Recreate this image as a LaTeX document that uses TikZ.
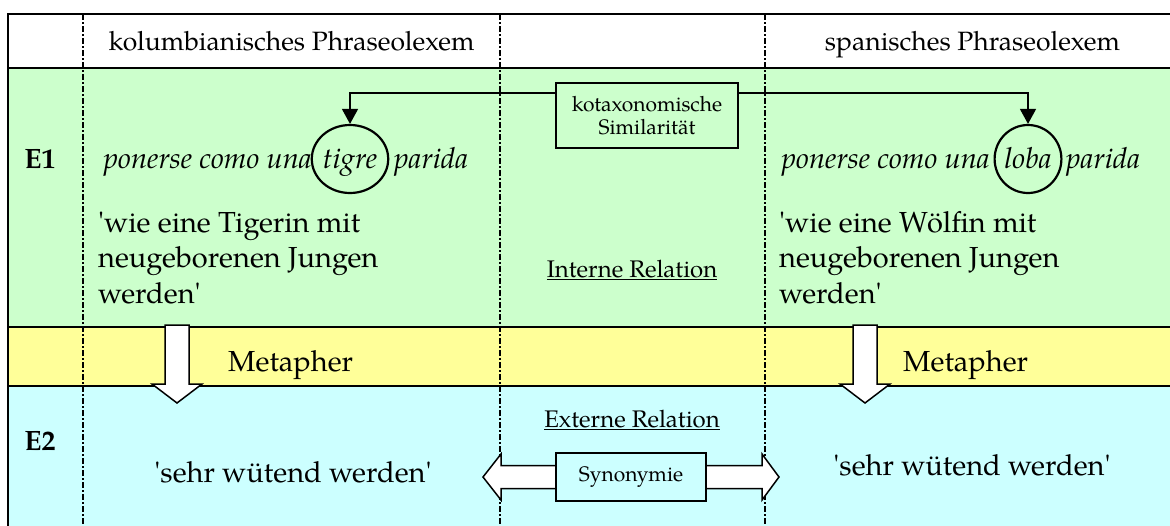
\documentclass[tikz,border=0pt]{standalone}
\usepackage{fontspec}
\setmainfont{TeX Gyre Pagella}
\usetikzlibrary{arrows.meta,shapes.geometric}
\definecolor{rowgreen}{HTML}{CCFFCC}
\definecolor{rowyellow}{HTML}{FFFF99}
\definecolor{rowcyan}{HTML}{CCFFFF}
\newcommand{\fsz}[2]{\fontsize{#1}{#2}\selectfont}
\newcommand{\sq}{\textquotesingle}

\begin{document}
\begin{tikzpicture}[x=1pt,y=-1pt,
  rule/.style={line width=2pt},
  colsep/.style={line width=1.3pt, dash pattern=on 6pt off 2pt on 2pt off 2pt},
  hdr/.style={font=\fsz{26.5}{32}, anchor=base, inner sep=0},
  lbl/.style={font=\bfseries\fsz{28}{34}, anchor=base, inner sep=0},
  idiom/.style={font=\itshape\fsz{29}{35}, inner sep=0},
  body/.style={font=\fsz{29}{35.5}, inner sep=0},
  gloss/.style={body, align=left, anchor=base west},
  rel/.style={font=\fsz{24}{29}, anchor=base, inner sep=0},
  ring/.style={draw, ellipse, line width=2.2pt, minimum width=66pt, minimum height=68pt,
    inner sep=0, text height=20pt, text depth=2pt, font=\itshape\fsz{29}{35}},
  tagbox/.style={draw, line width=2.5pt, inner sep=0, font=\fsz{21}{23}, align=center},
  conn/.style={line width=1.5pt, -{Triangle[length=15pt,width=16pt]}},
  fatarrow/.style={draw, fill=white, line width=1.5pt, line join=miter},
]
\useasboundingbox (0,0) rectangle (1170,525);

% row backgrounds
\fill[white]     (8,14)  rectangle (1172,68);
\fill[rowgreen]  (8,68)  rectangle (1172,327);
\fill[rowyellow] (8,327) rectangle (1172,386);
\fill[rowcyan]   (8,386) rectangle (1172,527);

% table rules
\draw[rule] (1172,14) -- (8,14) -- (8,527);
\draw[rule] (8,68)  -- (1172,68);
\draw[rule] (8,327) -- (1172,327);
\draw[rule] (8,386) -- (1172,386);

% column separators
\draw[colsep] (83,14)  -- (83,527);
\draw[colsep] (500,14) -- (500,527);
\draw[colsep] (765,14) -- (765,527);

% header row
\node[hdr] (hleft)  at (291.5,50) {kolumbianisches Phraseolexem};
\node[hdr] (hright) at (972.5,50) {spanisches Phraseolexem};

% row labels
\node[lbl] (e1) at (40,168) {E1};
\node[lbl] (e2) at (40,450) {E2};

% idioms with the exchanged animal circled
\node[ring] (tigre) at (350,159) {tigre};
\node[idiom, anchor=base east] (lpre)  at (312,168) {ponerse como una};
\node[idiom, anchor=base west] (lpost) at (394,168) {parida};
\node[ring] (loba) at (1028,159) {loba};
\node[idiom, anchor=base east] (rpre)  at (990,168) {ponerse como una};
\node[idiom, anchor=base west] (rpost) at (1066,168) {parida};

% literal glosses (anchored on the baseline of their last line)
\node[gloss] (lgloss) at (98,303)  {\sq wie eine Tigerin mit\\neugeborenen Jungen\\werden\sq};
\node[gloss] (rgloss) at (779,303) {\sq wie eine Wölfin mit\\neugeborenen Jungen\\werden\sq};

% relation captions
\node[rel] (intrel) at (632,277) {\underline{Interne Relation}};
\node[rel] (extrel) at (632,427) {\underline{Externe Relation}};

% metaphor step: hollow block arrows pointing down
\foreach \c in {177,865}{
  \draw[fatarrow] (\c-12,325) -- (\c+12,325) -- (\c+12,384) -- (\c+25,384)
    -- (\c,403) -- (\c-25,384) -- (\c-12,384) -- cycle;
}
\node[body, anchor=base west] (lmet) at (228,371) {Metapher};
\node[body, anchor=base west] (rmet) at (903,371) {Metapher};

% figurative meanings
\node[body, anchor=base] (lsense) at (293,482) {\sq sehr wütend werden\sq};
\node[body, anchor=base] (rsense) at (972,475) {\sq sehr wütend werden\sq};

% synonymy between the two meanings: hollow double arrow behind the box
\draw[fatarrow] (483,477) -- (501,454) -- (501,465.5) -- (762,465.5) -- (762,454)
  -- (779,477) -- (762,500) -- (762,488.5) -- (501,488.5) -- (501,500) -- cycle;
\node[tagbox, fill=rowcyan, minimum width=150pt, minimum height=48pt] (syn) at (631,477) {Synonymie};

% cotaxonomic similarity between the two animals
\node[tagbox, fill=rowgreen, minimum width=182pt, minimum height=65pt] (kot) at (647,115.5)
  {kotaxonomische\\Similarität};
\draw[conn] ([yshift=22.5pt]kot.west) -| (tigre.north);
\draw[conn] ([yshift=22.5pt]kot.east) -| (loba.north);
\end{tikzpicture}
\end{document}
